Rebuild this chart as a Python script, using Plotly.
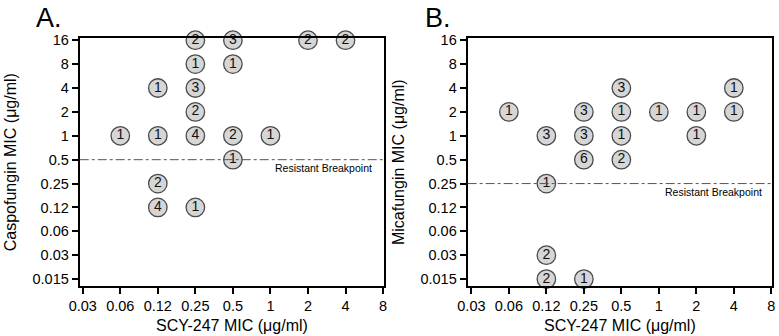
import plotly.graph_objects as go

x_cats = ["0.03", "0.06", "0.12", "0.25", "0.5", "1", "2", "4", "8"]
y_cats = ["0.015", "0.03", "0.06", "0.12", "0.25", "0.5", "1", "2", "4", "8", "16"]

# Panel A: Caspofungin vs SCY-247
a_x = ["0.25", "0.5", "2", "4", "0.25", "0.5", "0.12", "0.25", "0.25",
       "0.06", "0.12", "0.25", "0.5", "1", "0.5", "0.12", "0.12", "0.25"]
a_y = ["16", "16", "16", "16", "8", "8", "4", "4", "2",
       "1", "1", "1", "1", "1", "0.5", "0.25", "0.12", "0.12"]
a_n = [2, 3, 2, 2, 1, 1, 1, 3, 2, 1, 1, 4, 2, 1, 1, 2, 4, 1]

# Panel B: Micafungin vs SCY-247
b_x = ["0.5", "4", "0.06", "0.25", "0.5", "1", "2", "4",
       "0.12", "0.25", "0.5", "2", "0.25", "0.5", "0.12", "0.12", "0.12", "0.25"]
b_y = ["4", "4", "2", "2", "2", "2", "2", "2",
       "1", "1", "1", "1", "0.5", "0.5", "0.25", "0.03", "0.015", "0.015"]
b_n = [3, 1, 1, 3, 1, 1, 1, 1, 3, 3, 1, 1, 6, 2, 1, 2, 2, 1]

breakpoint_a = "0.5"
breakpoint_b = "0.25"

FONT = "Liberation Sans, Arial, sans-serif"
W, H = 779, 336

fig = go.Figure()

def add_points(xs, ys, ns, xa, ya):
    fig.add_trace(go.Scatter(
        x=xs, y=ys, text=[str(n) for n in ns], mode="markers+text",
        textposition="middle center",
        textfont=dict(family=FONT, size=14, color="#111111"),
        marker=dict(size=18.5, color="#d6d6d6", line=dict(color="#4a4a4a", width=1.3)),
        xaxis=xa, yaxis=ya, showlegend=False, hoverinfo="skip", cliponaxis=False,
    ))

add_points(a_x, a_y, a_n, "x", "y")
add_points(b_x, b_y, b_n, "x2", "y2")

def px_x(p):
    return p / W

def px_y(p):
    return 1 - p / H

ydom = [px_y(286), px_y(33)]

axis_common = dict(
    type="category", showline=True, linecolor="black", linewidth=2, mirror=True,
    ticks="outside", ticklen=6, tickwidth=2, tickcolor="black",
    showgrid=False, zeroline=False,
    tickfont=dict(family=FONT, size=14.5, color="black"),
)

title_font = dict(family=FONT, size=16, color="black")

fig.update_layout(
    width=W, height=H, margin=dict(l=0, r=0, t=0, b=0),
    plot_bgcolor="white", paper_bgcolor="white",
    xaxis=dict(axis_common, domain=[px_x(70), px_x(380)], anchor="y",
               categoryorder="array", categoryarray=x_cats, range=[-0.08, 8.03],
               title=dict(text="SCY-247 MIC (μg/ml)", font=title_font, standoff=6)),
    yaxis=dict(axis_common, domain=ydom, anchor="x",
               categoryorder="array", categoryarray=y_cats, range=[-0.29, 10.08],
               title=dict(text="Caspofungin MIC (μg/ml)", font=title_font, standoff=12)),
    xaxis2=dict(axis_common, domain=[px_x(465), px_x(775)], anchor="y2",
                categoryorder="array", categoryarray=x_cats, range=[-0.1, 8.02],
                title=dict(text="SCY-247 MIC (μg/ml)", font=title_font, standoff=6)),
    yaxis2=dict(axis_common, domain=ydom, anchor="x2",
                categoryorder="array", categoryarray=y_cats, range=[-0.29, 10.08],
                title=dict(text="Micafungin MIC (μg/ml)", font=title_font, standoff=12)),
)

# Resistant breakpoint lines (drawn above markers)
for xr, yr, bp, xpos in [("x", "y", breakpoint_a, 0.965), ("x2", "y2", breakpoint_b, 0.975)]:
    yi = y_cats.index(bp)
    fig.add_shape(type="line", xref=f"{xr} domain", yref=yr, x0=0, x1=1, y0=yi, y1=yi,
                  line=dict(color="#555555", width=1, dash="dashdot"), layer="above")
    fig.add_annotation(xref=f"{xr} domain", yref=yr, x=xpos, y=yi, text="Resistant Breakpoint",
                       showarrow=False, xanchor="right", yanchor="top", yshift=0,
                       font=dict(family=FONT, size=10.5, color="black"))

# Panel labels
fig.add_annotation(xref="paper", yref="paper", x=px_x(23), y=px_y(12), text="A.",
                   showarrow=False, xanchor="left", yanchor="middle",
                   font=dict(family=FONT, size=27, color="black"))
fig.add_annotation(xref="paper", yref="paper", x=px_x(420), y=px_y(12), text="B.",
                   showarrow=False, xanchor="left", yanchor="middle",
                   font=dict(family=FONT, size=27, color="black"))

fig.write_html("out.html")
